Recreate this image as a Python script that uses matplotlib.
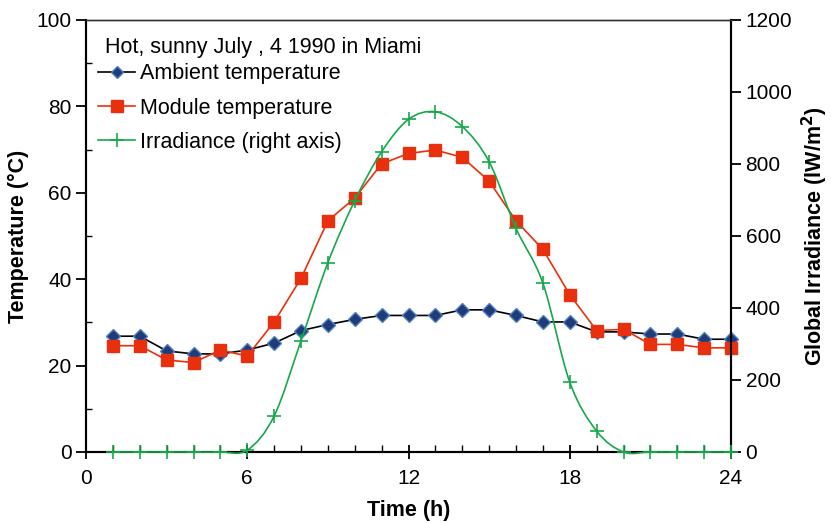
import numpy as np
import matplotlib
matplotlib.use("Agg")
import matplotlib.pyplot as plt
from matplotlib.path import Path
from matplotlib.patches import PathPatch
from matplotlib.lines import Line2D
from matplotlib.ticker import MultipleLocator

plt.rcParams['font.family'] = ['Liberation Sans', 'DejaVu Sans']

hours = [1, 2, 3, 4, 5, 6, 7, 8, 9, 10, 11, 12, 13, 14, 15, 16, 17, 18, 19, 20, 21, 22, 23, 24]
ambient = [26.8, 26.8, 23.4, 22.7, 22.7, 23.6, 25.2, 28.1, 29.5, 30.7, 31.6, 31.6,
           31.6, 32.9, 32.9, 31.6, 30.1, 30.1, 27.8, 27.8, 27.3, 27.3, 26.1, 26.1]
module = [24.6, 24.6, 21.3, 20.7, 23.6, 22.2, 30.1, 40.2, 53.5, 58.8, 66.7, 69.1,
          69.9, 68.2, 62.7, 53.5, 46.9, 36.4, 28.1, 28.4, 24.9, 24.9, 24.1, 24.1]
irradiance = [0, 0, 0, 0, 0, 5, 100, 309, 526, 698, 834, 924,
              945, 904, 806, 621, 469, 194, 58, 0, 0, 0, 0, 0]

title = "Hot, sunny July , 4 1990 in Miami"
labels = ["Ambient temperature", "Module temperature", "Irradiance (right axis)"]

c_amb_line = "black"
c_amb_mk = "#1F3C78"
c_amb_edge = "#4F7FC0"
c_mod = "#E8300E"
c_irr = "#16A84A"


def smooth_path(x, y):
    # cubic bezier through the points (Excel style smoothed line)
    x = np.asarray(x, float)
    y = np.asarray(y, float)
    n = len(x)
    verts = [(x[0], y[0])]
    codes = [Path.MOVETO]
    for i in range(n - 1):
        x0, y0 = (x[i - 1], y[i - 1]) if i > 0 else (x[i], y[i])
        x3, y3 = (x[i + 2], y[i + 2]) if i + 2 < n else (x[i + 1], y[i + 1])
        c1 = (x[i] + (x[i + 1] - x0) / 6, y[i] + (y[i + 1] - y0) / 6)
        c2 = (x[i + 1] - (x3 - x[i]) / 6, y[i + 1] - (y3 - y[i]) / 6)
        verts += [c1, c2, (x[i + 1], y[i + 1])]
        codes += [Path.CURVE4] * 3
    return Path(verts, codes)


fig = plt.figure(figsize=(8.31, 5.23), dpi=100)
ax = fig.add_axes([0.1035, 0.1358, 0.7762, 0.826])
ax2 = ax.twinx()

ax.plot(hours, ambient, color=c_amb_line, lw=1.2, marker="D", ms=7.5,
        mfc=c_amb_mk, mec=c_amb_edge, mew=1.0, zorder=3, clip_on=False)
ax.plot(hours, module, color=c_mod, lw=1.2, marker="s", ms=8.5,
        mfc=c_mod, mec=c_mod, zorder=4, clip_on=False)

patch = PathPatch(smooth_path(hours, irradiance), fill=False, edgecolor=c_irr,
                  lw=1.2, clip_on=False, zorder=5)
ax2.add_patch(patch)
ax2.plot(hours, irradiance, ls="none", marker="+", ms=10, mew=1.2, color=c_irr,
         clip_on=False, zorder=6)

ax.set_xlim(0, 24)
ax.set_ylim(0, 100)
ax2.set_ylim(0, 1200)

ax.xaxis.set_major_locator(MultipleLocator(6))
ax.xaxis.set_minor_locator(MultipleLocator(1))
ax.yaxis.set_major_locator(MultipleLocator(20))
ax.yaxis.set_minor_locator(MultipleLocator(10))
ax2.yaxis.set_major_locator(MultipleLocator(200))

ax.tick_params(axis="x", which="major", direction="inout", length=10, width=1.3, labelsize=15, pad=7)
ax.tick_params(axis="x", which="minor", direction="in", length=5, width=1.0)
ax.tick_params(axis="y", which="major", direction="out", length=7, width=1.3, labelsize=15)
ax.tick_params(axis="y", which="minor", direction="in", length=4, width=1.0)
ax2.tick_params(axis="y", which="major", direction="out", length=7, width=1.3, labelsize=15)

for a in (ax, ax2):
    for s in a.spines.values():
        s.set_linewidth(1.5)
    a.spines["top"].set_linewidth(1.0)
    a.spines["top"].set_color("#333333")

ax.set_xlabel("Time (h)", fontsize=15.5, fontweight="bold", labelpad=9)
ax.set_ylabel("Temperature (°C)", fontsize=15.5, fontweight="bold", labelpad=5)
ax2.set_ylabel("Global Irradiance (lW/m$^\\mathbf{2}$)", fontsize=15.5, fontweight="bold", labelpad=5)

ax2.text(0.0295, 0.9236, title, transform=ax2.transAxes, fontsize=15.5, va="baseline", ha="left")

handles = [
    Line2D([], [], color=c_amb_line, lw=1.2, marker="D", ms=6.5, mfc=c_amb_mk, mec=c_amb_edge),
    Line2D([], [], color=c_mod, lw=1.2, marker="s", ms=8.5, mfc=c_mod, mec=c_mod),
    Line2D([], [], color=c_irr, lw=1.2, marker="+", ms=10, mew=1.2),
]
leg = ax2.legend(handles, labels, loc="upper left", frameon=False,
                 fontsize=15.5, handlelength=1.7, handletextpad=0.25,
                 labelspacing=0.62, borderaxespad=0, borderpad=0,
                 bbox_to_anchor=(0.019, 0.9))

fig.savefig("out.png", dpi=100)
